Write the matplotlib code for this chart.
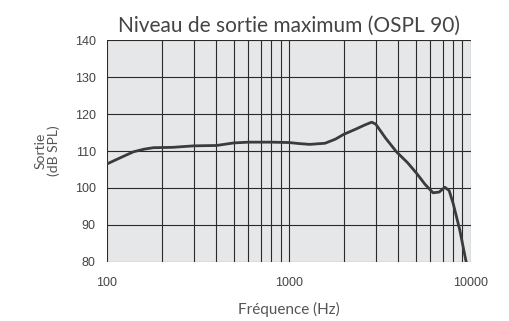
import numpy as np
import matplotlib
matplotlib.use('Agg')
import matplotlib.pyplot as plt
from matplotlib.ticker import FixedLocator, NullFormatter, FixedFormatter

plt.rcParams['font.family'] = ['Lato', 'DejaVu Sans']

freq = [100, 120, 140, 160, 180, 230, 300, 400, 500, 600, 800, 1000, 1150, 1300,
        1580, 1800, 2000, 2350, 2600, 2850, 3000, 3400, 3900, 4500, 5030, 5600,
        6200, 6700, 7200, 7600, 8000, 8700, 9380, 9500]
level = [106.5, 108.3, 109.8, 110.5, 110.9, 111.0, 111.4, 111.5, 112.2, 112.4,
         112.4, 112.3, 112.0, 111.8, 112.1, 113.2, 114.5, 116.0, 117.0, 117.8,
         117.3, 113.5, 109.8, 106.8, 104.0, 101.0, 98.7, 98.9, 100.2, 99.3,
         95.8, 88.6, 80.5, 79.5]

yticks = [80, 90, 100, 110, 120, 130, 140]
xticks = [100, 1000, 10000]
xlabels = ['100', '1000', '10000']

fig = plt.figure(figsize=(5.09, 3.21), dpi=100)
ax = fig.add_axes([0.210, 0.184, 0.715, 0.691])
ax.set_facecolor('#e6e7e8')

ax.plot(freq, level, color='#3b3b3b', lw=2, solid_capstyle='round', zorder=3)

ax.set_xscale('log')
ax.set_xlim(100, 10000)
ax.set_ylim(80, 140)
ax.xaxis.set_major_locator(FixedLocator(xticks))
ax.xaxis.set_major_formatter(FixedFormatter(xlabels))
minors = [m * d for d in (100, 1000) for m in range(2, 10)]
ax.xaxis.set_minor_locator(FixedLocator(minors))
ax.xaxis.set_minor_formatter(NullFormatter())
ax.set_yticks(yticks)

ax.grid(True, which='both', color='#2a2a2a', lw=0.8)
for s in ax.spines.values():
    s.set_visible(False)
ax.tick_params(which='both', length=0, labelsize=9, colors='#444444')
ax.tick_params(axis='x', pad=11)
ax.tick_params(axis='y', pad=8)
for lab in ax.get_xticklabels() + ax.get_yticklabels():
    lab.set_family(['Liberation Sans', 'DejaVu Sans'])

ax.set_title('Niveau de sortie maximum (OSPL 90)', fontsize=15, color='#444444', pad=6)
ax.set_xlabel('Fréquence (Hz)', fontsize=11, color='#555555', labelpad=9)
ax.set_ylabel('Sortie\n(dB SPL)', fontsize=10, color='#555555', labelpad=11, linespacing=1.0)

fig.savefig('out.png', dpi=100)
